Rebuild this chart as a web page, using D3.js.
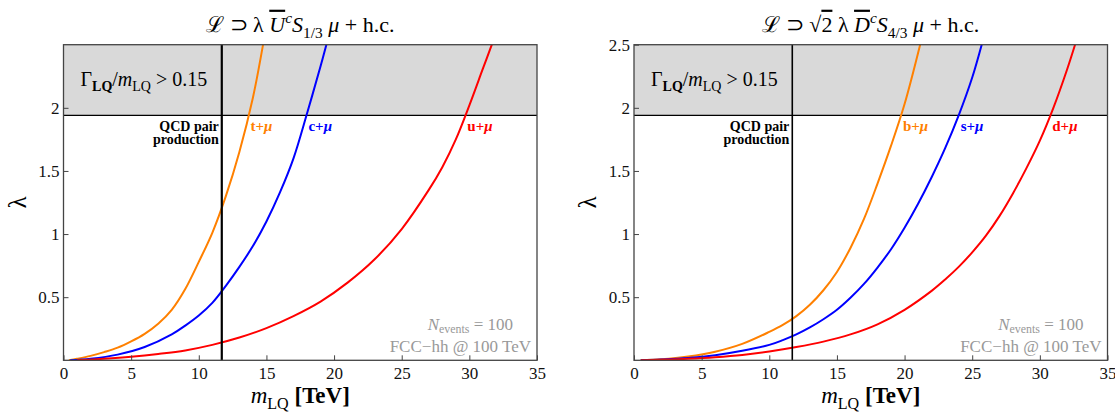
<!DOCTYPE html>
<html>
<head>
<meta charset="utf-8">
<script src="https://cdn.jsdelivr.net/npm/d3@7"></script>
<style>
body { margin: 0; background: #fff; }
svg text { font-family: "Liberation Serif", "Times New Roman", serif; }
</style>
</head>
<body>
<div id="chart"></div>
<script>
// axis setup
var massMax = 35, lambdaMax = 2.5;
var massTicks = [0, 5, 10, 15, 20, 25, 30, 35];
var lambdaTicksLeft = [0.5, 1, 1.5, 2];
var lambdaTicksRight = [0.5, 1, 1.5, 2, 2.5];
var qcdMass = 11.7;        // QCD pair production reach [TeV]
var widthBound = 1.94;     // lambda where Gamma/m = 0.15

// [m_LQ (TeV), lambda]
var tMu = [[0.4, 0], [1, 0.012], [2, 0.035], [3, 0.065], [4, 0.1], [5, 0.15], [6, 0.21], [7, 0.29],
    [8, 0.4], [9, 0.565], [10, 0.78], [11, 1.01], [12, 1.3], [13, 1.65], [14, 2.08], [14.75, 2.5]];
var cMu = [[0.5, 0], [2, 0.012], [4, 0.045], [6, 0.105], [8, 0.205], [9, 0.275], [10, 0.355], [11, 0.455],
    [12, 0.59], [13, 0.74], [14, 0.905], [15, 1.1], [16, 1.33], [17, 1.6], [18, 1.955], [19, 2.33], [19.43, 2.5]];
var uMu = [[1, 0], [3, 0.012], [5, 0.028], [7, 0.05], [9, 0.078], [11, 0.122], [13, 0.18], [15, 0.255],
    [17, 0.35], [19, 0.465], [21, 0.615], [23, 0.8], [25, 1.04], [27, 1.35], [28, 1.53], [29, 1.75],
    [30, 2.02], [31, 2.31], [31.66, 2.5]];

var bMu = [[0.5, 0], [2, 0.008], [4, 0.03], [6, 0.068], [8, 0.13], [10, 0.225], [11, 0.28], [12, 0.35],
    [13, 0.44], [14, 0.555], [15, 0.7], [16, 0.89], [17, 1.12], [18, 1.4], [19, 1.7], [20, 2.03], [21.15, 2.5]];
var sMu = [[0.5, 0], [2, 0.006], [4, 0.018], [6, 0.04], [8, 0.075], [10, 0.122], [11, 0.16], [12, 0.205],
    [13, 0.26], [14, 0.325], [15, 0.4], [16, 0.495], [17, 0.605], [18, 0.735], [19, 0.88], [20, 1.05],
    [21, 1.24], [22, 1.45], [23, 1.68], [24, 1.94], [25, 2.24], [25.7, 2.5]];
var dMu = [[0.5, 0], [2, 0.004], [4, 0.012], [6, 0.024], [8, 0.042], [10, 0.07], [12, 0.105], [14, 0.148],
    [16, 0.205], [18, 0.285], [20, 0.4], [22, 0.55], [23, 0.64], [24, 0.74], [25, 0.855], [26, 0.985],
    [27, 1.14], [28, 1.32], [29, 1.52], [30, 1.74], [31, 2.0], [32, 2.3], [32.6, 2.5]];

var orange = "#ff8000", blue = "#0000ff", red = "#ff0000";

var margin = {top: 44.7, left: 63.5},
    width = 473.5,
    height = 315.6,
    panelGap = 570.5;

var svg = d3.select("#chart").append("svg")
    .attr("width", 1115)
    .attr("height", 412)
    .attr("font-family", "Liberation Serif");

// append rich text pieces: {t, it, bold, sub, sup, over}
function richText(text, parts, fs, subShift) {
    var shift = 0;
    subShift = subShift || 0.27;
    parts.forEach(function(p) {
        if (typeof p === "string") p = {t: p};
        var target = p.sub ? subShift * fs : (p.sup ? -0.38 * fs : 0);
        var ts = text.append("tspan").text(p.t).attr("dy", target - shift);
        shift = target;
        if (p.sub || p.sup) ts.attr("font-size", 0.7 * fs);
        if (p.it) ts.attr("font-style", "italic");
        if (p.bold) ts.attr("font-weight", "bold");
        if (p.over) ts.style("text-decoration", "overline");
    });
    return text;
}

// mass where a curve reaches lambda = level (linear between read points)
function crossing(values, level) {
    for (var i = 1; i < values.length; i++) {
        var a = values[i - 1], b = values[i];
        if (a[1] <= level && b[1] >= level) {
            return a[0] + (level - a[1]) / (b[1] - a[1]) * (b[0] - a[0]);
        }
    }
    return values[values.length - 1][0];
}

function drawPanel(idx, cfg) {
    var g = svg.append("g")
        .attr("transform", "translate(" + (margin.left + idx * panelGap) + "," + margin.top + ")");
    var x = d3.scaleLinear().domain([0, massMax]).range([0, width]);
    var y = d3.scaleLinear().domain([0, lambdaMax]).range([height, 0]);

    // excluded (too wide) region
    g.append("rect")
        .attr("x", 0).attr("y", y(lambdaMax))
        .attr("width", width).attr("height", y(widthBound) - y(lambdaMax))
        .attr("fill", "#d9d9d9");
    g.append("line")
        .attr("x1", 0).attr("x2", width)
        .attr("y1", y(widthBound)).attr("y2", y(widthBound))
        .attr("stroke", "#000").attr("stroke-width", 1.2);

    g.append("clipPath").attr("id", "clip" + idx)
        .append("rect").attr("width", width).attr("height", height);

    var line = d3.line()
        .x(function(d) { return x(d[0]); })
        .y(function(d) { return y(d[1]); })
        .curve(d3.curveCatmullRom.alpha(0.5));

    g.append("g").attr("clip-path", "url(#clip" + idx + ")")
        .selectAll("path").data(cfg.series).enter()
        .append("path")
        .attr("d", function(d) { return line(d.values); })
        .attr("fill", "none")
        .attr("stroke", function(d) { return d.color; })
        .attr("stroke-width", 2);

    // QCD pair production line
    g.append("line")
        .attr("x1", x(qcdMass)).attr("x2", x(qcdMass))
        .attr("y1", 0).attr("y2", height)
        .attr("stroke", "#000").attr("stroke-width", idx === 0 ? 2.2 : 1.6);

    // frame
    g.append("rect")
        .attr("width", width).attr("height", height)
        .attr("fill", "none").attr("stroke", "#444").attr("stroke-width", 1.3);

    var xAxis = d3.axisBottom(x).tickValues(massTicks).tickSize(-5).tickPadding(7)
        .tickFormat(d3.format("d"));
    var xAxisG = g.append("g").attr("transform", "translate(0," + height + ")").call(xAxis);
    var yAxis = d3.axisLeft(y).tickValues(cfg.yTicks).tickSize(-5).tickPadding(4)
        .tickFormat(function(d) { return String(d); });
    var yAxisG = g.append("g").call(yAxis);
    [xAxisG, yAxisG].forEach(function(a) {
        a.attr("font-family", "Liberation Serif");
        a.select(".domain").remove();
        a.selectAll("line").attr("stroke", "#444");
        a.selectAll("text").attr("font-size", 17).attr("fill", "#111");
    });

    // labels
    var title = g.append("text")
        .attr("x", width / 2).attr("y", -13)
        .attr("text-anchor", "middle").attr("font-size", 22);
    richText(title, cfg.title, 22);

    var xl = g.append("text")
        .attr("x", width / 2).attr("y", height + 43)
        .attr("text-anchor", "middle").attr("font-size", 23);
    richText(xl, [{t: "m", it: true}, {t: "LQ", sub: true}, " ", {t: "[TeV]", bold: true}], 23);

    g.append("text")
        .attr("transform", "translate(-38," + (height / 2) + ") rotate(-90)")
        .attr("text-anchor", "middle").attr("font-size", 25)
        .text("λ");

    var gl = g.append("text")
        .attr("x", 17).attr("y", (y(lambdaMax) + y(widthBound)) / 2 + 6)
        .attr("font-size", 20);
    richText(gl, ["Γ", {t: "LQ", sub: true, bold: true}, "/", {t: "m", it: true}, {t: "LQ", sub: true}, " > 0.15"], 20);

    var qcd = g.append("text")
        .attr("text-anchor", "end").attr("font-size", 14).attr("font-weight", "bold");
    qcd.append("tspan").attr("x", x(qcdMass) - 3).attr("y", y(widthBound) + 16).text("QCD pair");
    qcd.append("tspan").attr("x", x(qcdMass) - 3).attr("y", y(widthBound) + 29).text("production");

    // curve labels next to the crossing with the width bound
    cfg.series.forEach(function(s) {
        var m = crossing(s.values, widthBound);
        var lt = g.append("text")
            .attr("x", x(m) + 2).attr("y", y(widthBound) + 16)
            .attr("font-size", 15).attr("font-weight", "bold").attr("fill", s.color);
        richText(lt, [s.quark + "+", {t: "μ", it: true}], 15);
    });

    var n1 = g.append("text")
        .attr("x", width - 24).attr("y", height - 30)
        .attr("text-anchor", "end").attr("font-size", 17).attr("fill", "#999");
    richText(n1, [{t: "N", it: true}, {t: "events", sub: true}, " = 100"], 17, 0.18);
    g.append("text")
        .attr("x", width - 6).attr("y", height - 8)
        .attr("text-anchor", "end").attr("font-size", 17).attr("fill", "#999")
        .text("FCC\u2212hh @ 100 TeV");
}

drawPanel(0, {
    yTicks: lambdaTicksLeft,
    title: ["ℒ ⊃ λ ", {t: "U", it: true, over: true}, {t: "c", it: true, sup: true}, {t: "S", it: true},
        {t: "1/3", sub: true}, " ", {t: "μ", it: true}, " + h.c."],
    series: [
        {quark: "t", color: orange, values: tMu},
        {quark: "c", color: blue, values: cMu},
        {quark: "u", color: red, values: uMu}
    ]
});

drawPanel(1, {
    yTicks: lambdaTicksRight,
    title: ["ℒ ⊃ √", {t: "2", over: true}, " λ ", {t: "D", it: true, over: true}, {t: "c", it: true, sup: true},
        {t: "S", it: true}, {t: "4/3", sub: true}, " ", {t: "μ", it: true}, " + h.c."],
    series: [
        {quark: "b", color: orange, values: bMu},
        {quark: "s", color: blue, values: sMu},
        {quark: "d", color: red, values: dMu}
    ]
});
</script>
</body>
</html>
